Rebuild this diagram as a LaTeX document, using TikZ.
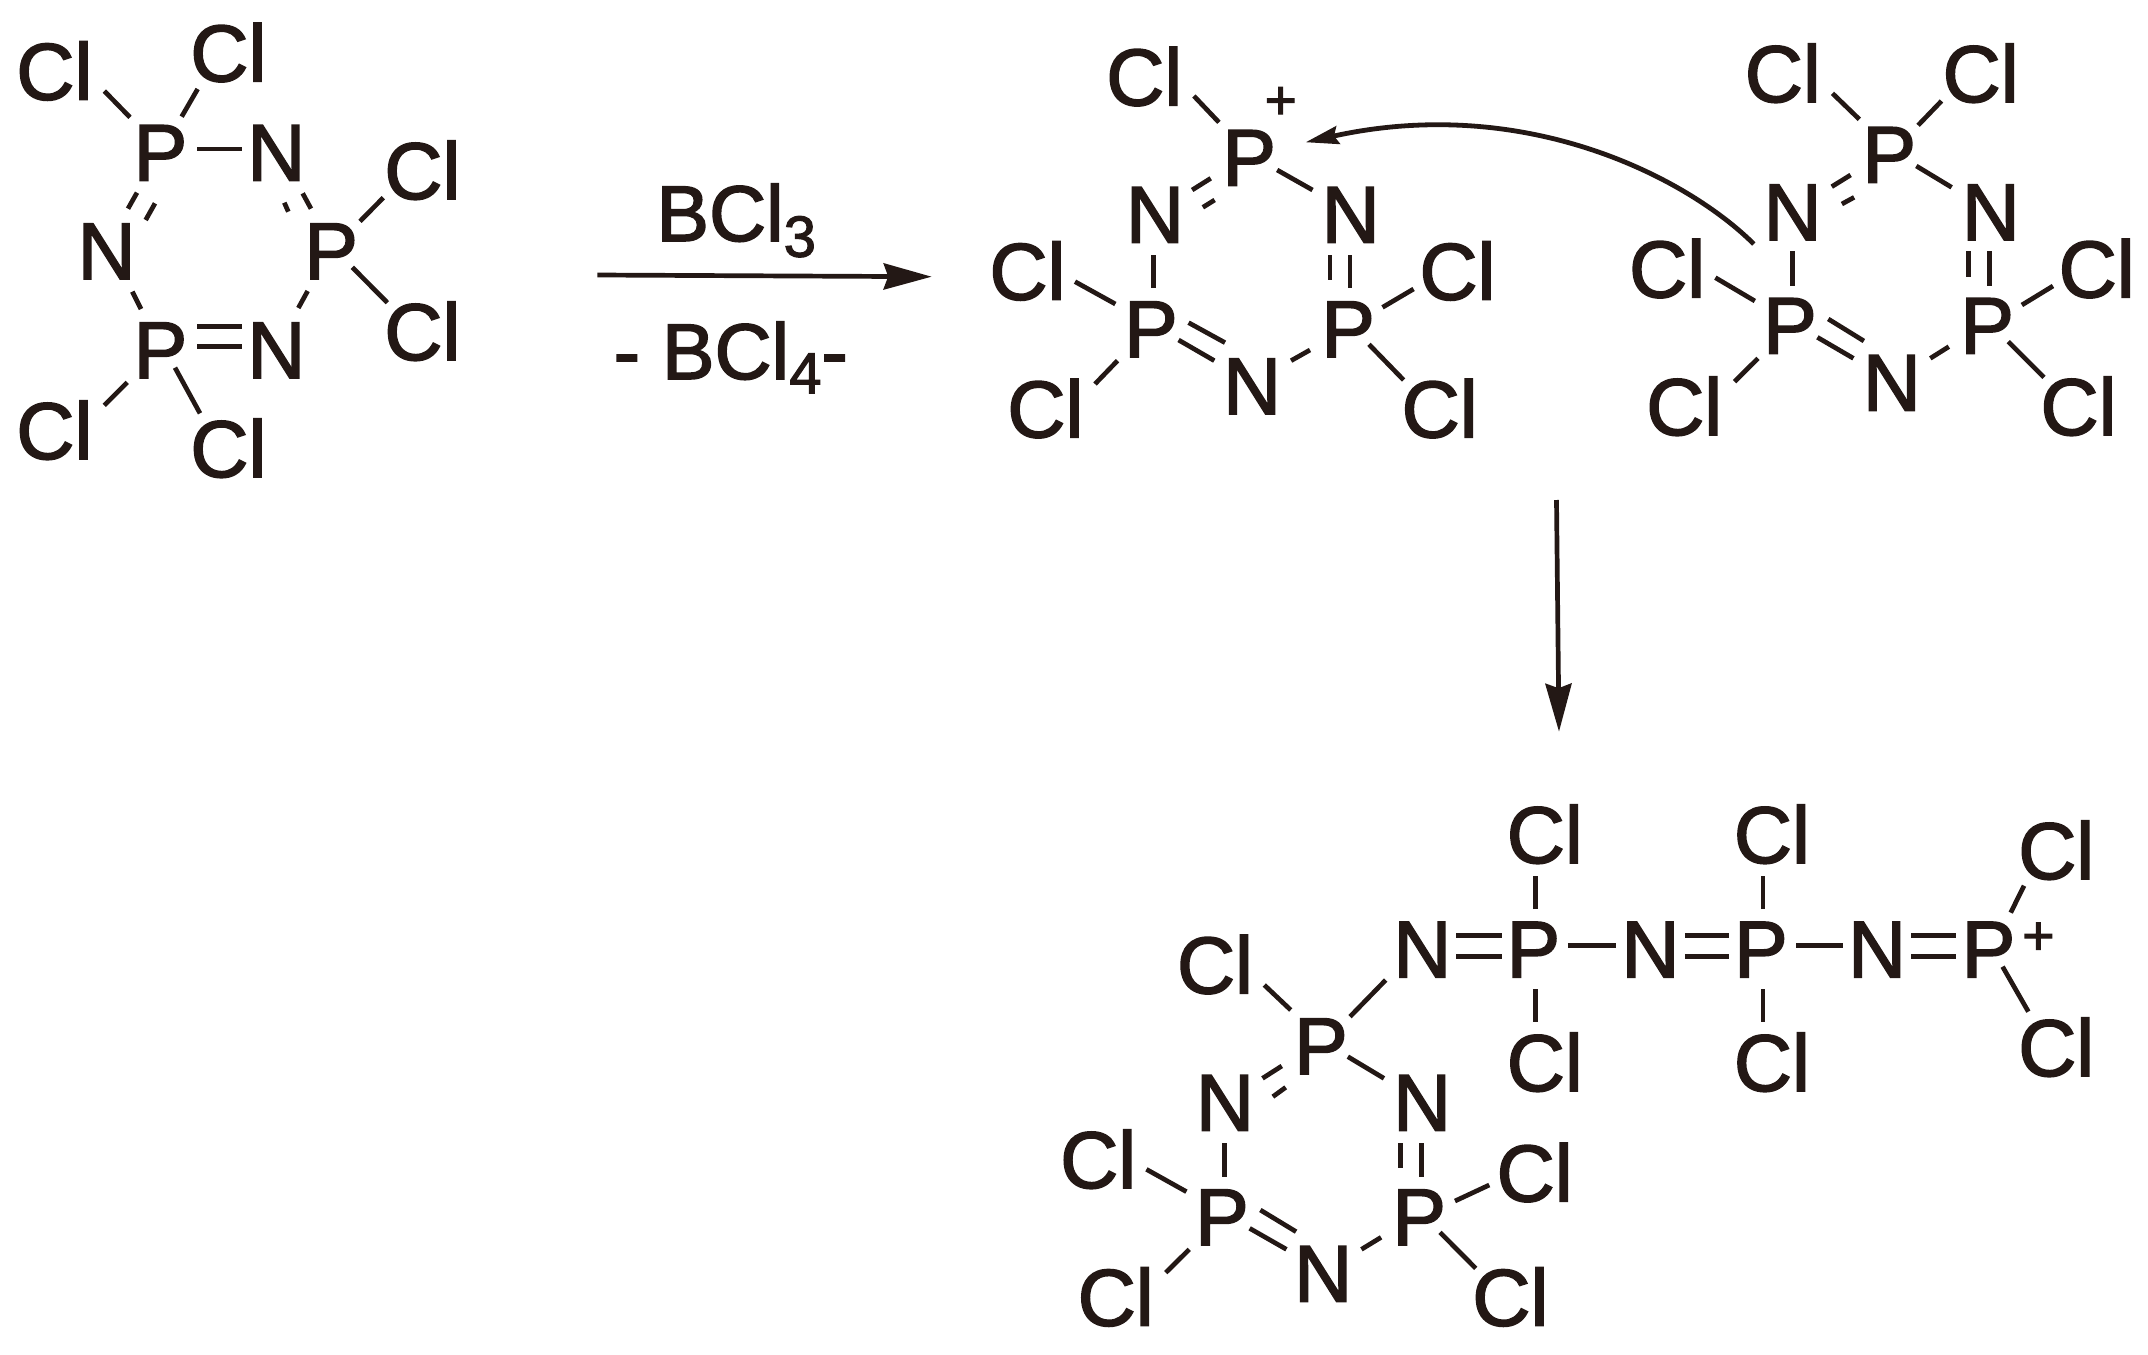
\documentclass[tikz,border=0pt]{standalone}
\usepackage{fontspec}
\setmainfont{Liberation Sans}[FakeBold=2]
\usetikzlibrary{arrows.meta}
\definecolor{ink}{HTML}{231815}
\newcommand\setzoom[3]{\def\zx{#1}\def\zy{#2}\def\zf{#3}}
\newcommand\atom[5][atomlabel]{%
  \pgfmathsetmacro\ptx{\zx+(#4)/\zf}%
  \pgfmathsetmacro\pty{\zy+(#5)/3}%
  \expandafter\xdef\csname atomx#2\endcsname{\ptx}%
  \expandafter\xdef\csname atomy#2\endcsname{\pty}%
  \node[#1] (#2) at (\ptx,\pty) {#3};}
\newcommand\bond[6]{%
  \pgfmathsetmacro\dxa{\zx+(#3)/\zf-\csname atomx#1\endcsname}%
  \pgfmathsetmacro\dya{\zy+(#4)/3-\csname atomy#1\endcsname}%
  \pgfmathsetmacro\dxb{\zx+(#5)/\zf-\csname atomx#2\endcsname}%
  \pgfmathsetmacro\dyb{\zy+(#6)/3-\csname atomy#2\endcsname}%
  \draw[bondline] ([shift={(\dxa,\dya)}]#1.center) -- ([shift={(\dxb,\dyb)}]#2.center);}
\newcommand\PP{P\kern2.4pt}
\newcommand\CL{\kern1.4pt Cl}
\tikzset{
  atomlabel/.style={inner sep=0pt,outer sep=0pt,text height=58pt,text depth=0pt,text=ink,font=\fontsize{80.5}{90}\selectfont},
  chargelabel/.style={inner sep=0pt,outer sep=0pt,text height=38pt,text depth=0pt,text=ink,font=\fontsize{55}{60}\selectfont},
  reagentlabel/.style={inner sep=0pt,outer sep=0pt,anchor=base west,text=ink,font=\fontsize{79}{90}\selectfont},
  bondline/.style={draw=ink,line width=4.7pt},
  reactionarrow/.style={draw=ink,line width=4.7pt,-{Stealth[length=48pt,width=26pt,inset=4.5pt]}},
  curvedarrow/.style={draw=ink,line width=4.8pt,-{Stealth[length=33pt,width=18pt,inset=4pt]}}
}
\newcommand\subfont{\fontsize{58}{60}\selectfont}
\begin{document}
\begin{tikzpicture}[x=1pt,y=-1pt]
\useasboundingbox (0,0) rectangle (2148,1355);

% ---------- first ring
\setzoom{0}{0}{3}
\atom{aCla}{\CL}{161}{212}
\atom{aClb}{\CL}{683}{157}
\atom{aPa}{\PP}{485}{455}
\atom{aNa}{N}{829}{455}
\atom{aClc}{\CL}{1265}{510}
\atom{aPb}{\PP}{997}{750}
\atom{aNb}{N}{320}{750}
\atom{aCld}{\CL}{1265}{993}
\atom{aPc}{\PP}{485}{1047}
\atom{aNc}{N}{829}{1047}
\atom{aCle}{\CL}{161}{1290}
\atom{aClf}{\CL}{683}{1344}
\bond{aCla}{aPa}{313}{273}{390}{352}
\bond{aClb}{aPa}{593}{267}{545}{350}
\bond{aPa}{aNa}{592}{447}{726}{447}
\bond{aPa}{aNb}{411}{578}{384}{626}
\bond{aPa}{aNb}{465}{610}{437}{660}
\bond{aNa}{aPb}{908}{580}{933}{626}
\bond{aNa}{aPb}{853}{608}{865}{635}
\bond{aNb}{aPc}{397}{875}{423}{927}
\bond{aPc}{aNc}{592}{980}{726}{980}
\bond{aPc}{aNc}{592}{1040}{726}{1040}
\bond{aNc}{aPb}{895}{924}{923}{873}
\bond{aPb}{aClc}{1080}{664}{1150}{593}
\bond{aPb}{aCld}{1057}{802}{1162}{908}
\bond{aPc}{aCle}{382}{1147}{313}{1216}
\bond{aPc}{aClf}{525}{1103}{600}{1240}

% ---------- reaction arrow and reagents
\setzoom{580}{160}{3}
\coordinate (arrowAstart) at (597.3,275);
\coordinate (arrowAend) at (931.7,276.7);
\draw[reactionarrow] (arrowAstart) -- (arrowAend);
\node[reagentlabel] (reagentTop) at (656.4,241) {BCl\raisebox{-15.7pt}{\subfont 3}};
\node[reagentlabel] (reagentBottom) at (613.7,379) {- BCl\raisebox{-14.3pt}{\subfont 4}-};

% ---------- cation ring
\setzoom{960}{20}{2.8}
\atom{bCla}{\CL}{514}{169}
\atom[chargelabel]{bPlus}{+}{898}{240}
\atom{bPa}{\PP}{813}{410}
\atom{bNa}{N}{546}{581}
\atom{bNb}{N}{1094}{581}
\atom{bClb}{\CL}{187}{752}
\atom{bPb}{\PP}{538}{924}
\atom{bPc}{\PP}{1090}{924}
\atom{bClc}{\CL}{1391}{752}
\atom{bNc}{N}{818}{1095}
\atom{bCld}{\CL}{237}{1165}
\atom{bCle}{\CL}{1341}{1165}
\bond{bCla}{bPa}{655}{228}{725}{307}
\bond{bPa}{bNa}{702}{475}{650}{510}
\bond{bPa}{bNa}{713}{540}{680}{562}
\bond{bPa}{bNb}{888}{450}{987}{510}
\bond{bNa}{bPb}{542}{705}{542}{803}
\bond{bNb}{bPc}{1036}{705}{1036}{780}
\bond{bNb}{bPc}{1092}{705}{1092}{803}
\bond{bPb}{bClb}{435}{852}{322}{785}
\bond{bPb}{bCld}{441}{1022}{378}{1092}
\bond{bPb}{bNc}{640}{908}{742}{968}
\bond{bPb}{bNc}{612}{960}{712}{1022}
\bond{bNc}{bPc}{927}{1022}{980}{990}
\bond{bPc}{bClc}{1183}{862}{1270}{807}
\bond{bPc}{bCle}{1145}{973}{1242}{1080}

% ---------- neutral ring
\setzoom{1600}{20}{2.861}
\atom{cCla}{\CL}{521}{159}
\atom{cClb}{\CL}{1087}{159}
\atom{cPa}{\PP}{831}{401}
\atom{cNa}{N}{551}{573}
\atom{cNb}{N}{1118}{573}
\atom{cClc}{\CL}{190}{745}
\atom{cPb}{\PP}{547}{914}
\atom{cPc}{\PP}{1111}{914}
\atom{cCld}{\CL}{1419}{745}
\atom{cNc}{N}{835}{1085}
\atom{cCle}{\CL}{239}{1158}
\atom{cClf}{\CL}{1367}{1158}
\bond{cCla}{cPa}{665}{220}{742}{298}
\bond{cClb}{cPa}{977}{243}{910}{316}
\bond{cPa}{cNa}{717}{465}{663}{500}
\bond{cPa}{cNa}{727}{532}{692}{552}
\bond{cPa}{cNb}{905}{438}{1006}{502}
\bond{cNa}{cPb}{550}{693}{550}{797}
\bond{cNb}{cPc}{1054}{693}{1054}{770}
\bond{cNb}{cPc}{1114}{693}{1114}{797}
\bond{cPb}{cClc}{443}{843}{330}{773}
\bond{cPb}{cCle}{452}{1015}{385}{1085}
\bond{cPb}{cNc}{653}{897}{755}{963}
\bond{cPb}{cNc}{622}{952}{725}{1015}
\bond{cNc}{cPc}{945}{1015}{998}{980}
\bond{cPc}{cCld}{1207}{855}{1296}{798}
\bond{cPc}{cClf}{1168}{965}{1270}{1072}

% ---------- curved arrow from the ring nitrogen to the cation
\draw[curvedarrow] ([shift={(-38.8,33)}]cNa.center)
  .. controls (1687,177.5) and (1525,93.7) .. ([shift={(55.3,-14.4)}]bPa.center);

% ---------- downward arrow
\coordinate (arrowBstart) at (1556.5,500);
\coordinate (arrowBend) at (1559,731.7);
\draw[reactionarrow] (arrowBstart) -- (arrowBend);

% ---------- phosphazene chain
\setzoom{1400}{780}{2.096}
\atom{dNa}{N}{47}{505}
\atom{dPa}{\PP}{282}{505}
\atom{dCla}{\CL}{302}{162}
\atom{dClb}{\CL}{302}{846}
\atom{dNb}{N}{525}{505}
\atom{dPb}{\PP}{759}{505}
\atom{dClc}{\CL}{778}{162}
\atom{dCld}{\CL}{778}{846}
\atom{dNc}{N}{1000}{505}
\atom{dPc}{\PP}{1236}{505}
\atom[chargelabel]{dPlus}{+}{1338}{466}
\atom{dCle}{\CL}{1374}{210}
\atom{dClf}{\CL}{1374}{801}
\bond{dNa}{dPa}{118}{467}{213}{467}
\bond{dNa}{dPa}{118}{530}{213}{530}
\bond{dPa}{dNb}{352}{497}{452}{497}
\bond{dNb}{dPb}{597}{467}{690}{467}
\bond{dNb}{dPb}{597}{530}{690}{530}
\bond{dPb}{dNc}{830}{497}{928}{497}
\bond{dNc}{dPc}{1072}{467}{1165}{467}
\bond{dNc}{dPc}{1072}{530}{1165}{530}
\bond{dPa}{dCla}{284}{387}{284}{288}
\bond{dPa}{dClb}{284}{627}{284}{725}
\bond{dPb}{dClc}{761}{387}{761}{288}
\bond{dPb}{dCld}{761}{627}{761}{725}
\bond{dPc}{dCle}{1280}{398}{1308}{317}
\bond{dPc}{dClf}{1263}{560}{1317}{695}

% ---------- ring on the chain
\setzoom{1040}{900}{2.8}
\atom{eCla}{\CL}{488}{193}
\atom{ePa}{\PP}{790}{435}
\atom{eNa}{N}{518}{605}
\atom{eNb}{N}{1070}{605}
\atom{eClb}{\CL}{161}{777}
\atom{ePb}{\PP}{513}{948}
\atom{ePc}{\PP}{1065}{948}
\atom{eClc}{\CL}{1383}{817}
\atom{eNc}{N}{793}{1118}
\atom{eCld}{\CL}{210}{1190}
\atom{eCle}{\CL}{1315}{1190}
\bond{eCla}{ePa}{628}{255}{702}{330}
\bond{ePa}{dNa}{868}{350}{968}{240}
\bond{ePa}{eNa}{677}{498}{623}{535}
\bond{ePa}{eNa}{688}{562}{652}{590}
\bond{ePa}{eNb}{862}{470}{963}{535}
\bond{eNa}{ePb}{516}{730}{516}{830}
\bond{eNb}{ePc}{1010}{730}{1010}{803}
\bond{eNb}{ePc}{1068}{730}{1068}{830}
\bond{ePb}{eClb}{410}{875}{298}{808}
\bond{ePb}{eCld}{418}{1048}{352}{1118}
\bond{ePb}{eNc}{617}{930}{717}{995}
\bond{ePb}{eNc}{587}{985}{690}{1048}
\bond{eNc}{ePc}{900}{1048}{955}{1012}
\bond{ePc}{eClc}{1162}{903}{1258}{855}
\bond{ePc}{eCle}{1120}{997}{1220}{1105}
\end{tikzpicture}
\end{document}
